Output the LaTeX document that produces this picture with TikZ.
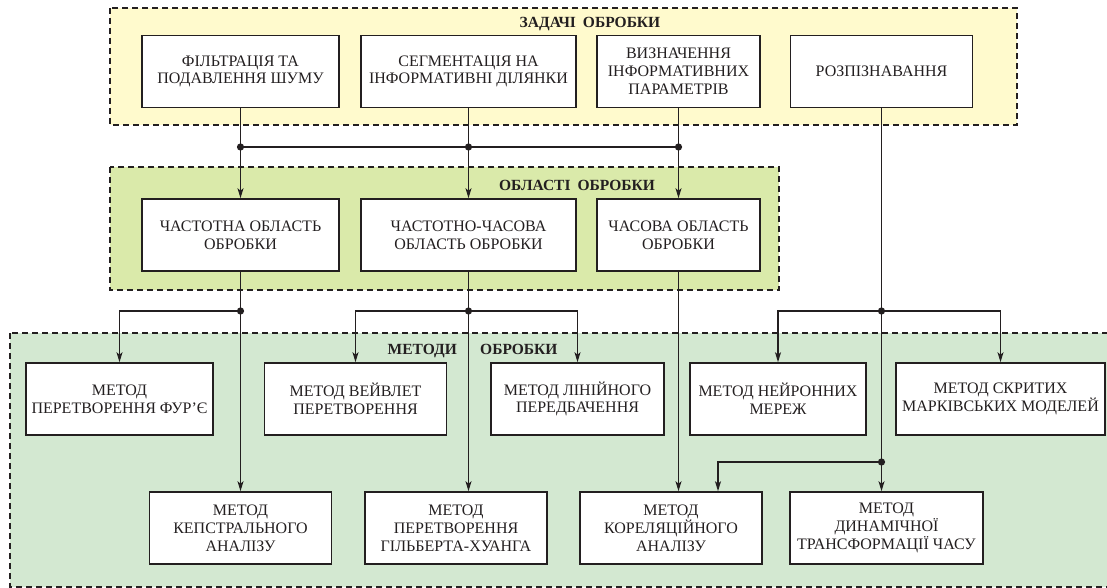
\documentclass[tikz,border=0pt]{standalone}
\usepackage{fontspec}
\setmainfont{Liberation Serif}
\usetikzlibrary{arrows.meta}
\definecolor{zoneA}{RGB}{255,250,205}
\definecolor{zoneB}{RGB}{218,234,170}
\definecolor{zoneC}{RGB}{211,232,209}
\definecolor{ink}{RGB}{35,31,32}
\begin{document}
\begin{tikzpicture}[x=1pt,y=-1pt,
  zone/.style={draw=ink, line width=1.1pt, dash pattern=on 6pt off 4pt},
  box/.style={draw=ink, line width=1.6pt, fill=white, align=center, inner sep=0pt,
    text=ink, font=\fontsize{16}{17.8}\selectfont, minimum height=72pt},
  ztitle/.style={font=\bfseries\fontsize{15.5}{16}\selectfont, text=ink, inner sep=0pt},
  wire/.style={draw=ink, line width=1.3pt},
  arr/.style={wire, -{Stealth[length=10pt,width=6pt,inset=2.5pt]}},
  dotc/.style={fill=ink}]
\useasboundingbox (0,0) rectangle (1107,588);
% zones
\draw[zone, fill=zoneA] (110,8) rectangle (1017,125);
\draw[zone, fill=zoneB] (110,167) rectangle (779,290);
\draw[zone, fill=zoneC] (10,333) rectangle (1120,587);
\node[ztitle, anchor=base] (ta) at (590,28) {ЗАДАЧІ\hspace{7pt}ОБРОБКИ};
\node[ztitle, anchor=base] (tb) at (577,190) {ОБЛАСТІ\hspace{7pt}ОБРОБКИ};
\node[ztitle, anchor=base east] (tc1) at (457,354) {МЕТОДИ};
\node[ztitle, anchor=base west] (tc2) at (480,354) {ОБРОБКИ};
% tasks
\node[box, minimum width=197pt] (t1) at (240.5,71.5) {ФІЛЬТРАЦІЯ ТА\\ПОДАВЛЕННЯ ШУМУ};
\node[box, minimum width=215pt] (t2) at (468.5,71.5) {СЕГМЕНТАЦІЯ НА\\ІНФОРМАТИВНІ ДІЛЯНКИ};
\node[box, minimum width=163pt] (t3) at (678.5,71.5) {ВИЗНАЧЕННЯ\\ІНФОРМАТИВНИХ\\ПАРАМЕТРІВ};
\node[box, minimum width=182pt] (t4) at (881.5,71.5) {РОЗПІЗНАВАННЯ};
% domains
\node[box, minimum width=197pt] (m1) at (240.5,235) {ЧАСТОТНА ОБЛАСТЬ\\ОБРОБКИ};
\node[box, minimum width=215pt] (m2) at (468.5,235) {ЧАСТОТНО-ЧАСОВА\\ОБЛАСТЬ ОБРОБКИ};
\node[box, minimum width=163pt] (m3) at (678.5,235) {ЧАСОВА ОБЛАСТЬ\\ОБРОБКИ};
% methods row 1
\node[box, minimum width=187pt] (fur) at (119.5,399) {МЕТОД\\ПЕРЕТВОРЕННЯ ФУР’Є};
\node[box, minimum width=182pt] (wav) at (355.5,399) {МЕТОД ВЕЙВЛЕТ\\ПЕРЕТВОРЕННЯ};
\node[box, minimum width=173pt] (lin) at (577.5,399) {МЕТОД ЛІНІЙНОГО\\ПЕРЕДБАЧЕННЯ};
\node[box, minimum width=176pt] (neu) at (778,399) {МЕТОД НЕЙРОННИХ\\МЕРЕЖ};
\node[box, minimum width=209pt] (mar) at (1000.5,399) {МЕТОД СКРИТИХ\\МАРКІВСЬКИХ МОДЕЛЕЙ};
% methods row 2
\node[box, minimum width=182pt] (cep) at (240.5,528) {МЕТОД\\КЕПСТРАЛЬНОГО\\АНАЛІЗУ};
\node[box, minimum width=182pt] (hil) at (456,528) {МЕТОД\\ПЕРЕТВОРЕННЯ\\ГІЛЬБЕРТА-ХУАНГА};
\node[box, minimum width=182pt] (cor) at (671,528) {МЕТОД\\КОРЕЛЯЦІЙНОГО\\АНАЛІЗУ};
\node[box, minimum width=193pt] (dtw) at (886.5,528) {МЕТОД\\ДИНАМІЧНОЇ\\ТРАНСФОРМАЦІЇ ЧАСУ};
% junctions
\coordinate (d1) at (t1.south |- 0,147);
\coordinate (d2) at (t2.south |- 0,147);
\coordinate (d3) at (t3.south |- 0,147);
\coordinate (p1) at (m1.south |- 0,311);
\coordinate (p2) at (m2.south |- 0,311);
\coordinate (r1) at (t4.south |- 0,311);
\coordinate (r2) at (t4.south |- 0,462);
% tasks -> domains
\draw[arr] (t1.south) -- (m1.north);
\draw[arr] (t2.south) -- (m2.north);
\draw[arr] (t3.south) -- (m3.north);
\draw[wire] (d1) -- (d3);
% domains -> methods
\draw[arr] (m1.south) -- (m1.south |- cep.north);
\draw[arr] (p1) -| (fur.north);
\draw[arr] (m2.south) -- (m2.south |- hil.north);
\draw[arr] (p2) -| (wav.north);
\draw[arr] (p2) -| (lin.north);
\draw[arr] (m3.south) -- (m3.south |- cor.north);
% recognition
\draw[wire] (t4.south) -- (r2);
\draw[arr] (r2) -- (r2 |- dtw.north);
\draw[arr] (r1) -| (neu.north);
\draw[arr] (r1) -| (mar.north);
\draw[arr] (r2) -| ([xshift=47pt]cor.north);
% dots
\foreach \p in {d1,d2,d3,p1,p2,r1,r2} \fill[dotc] (\p) circle (3.6pt);
\end{tikzpicture}
\end{document}
